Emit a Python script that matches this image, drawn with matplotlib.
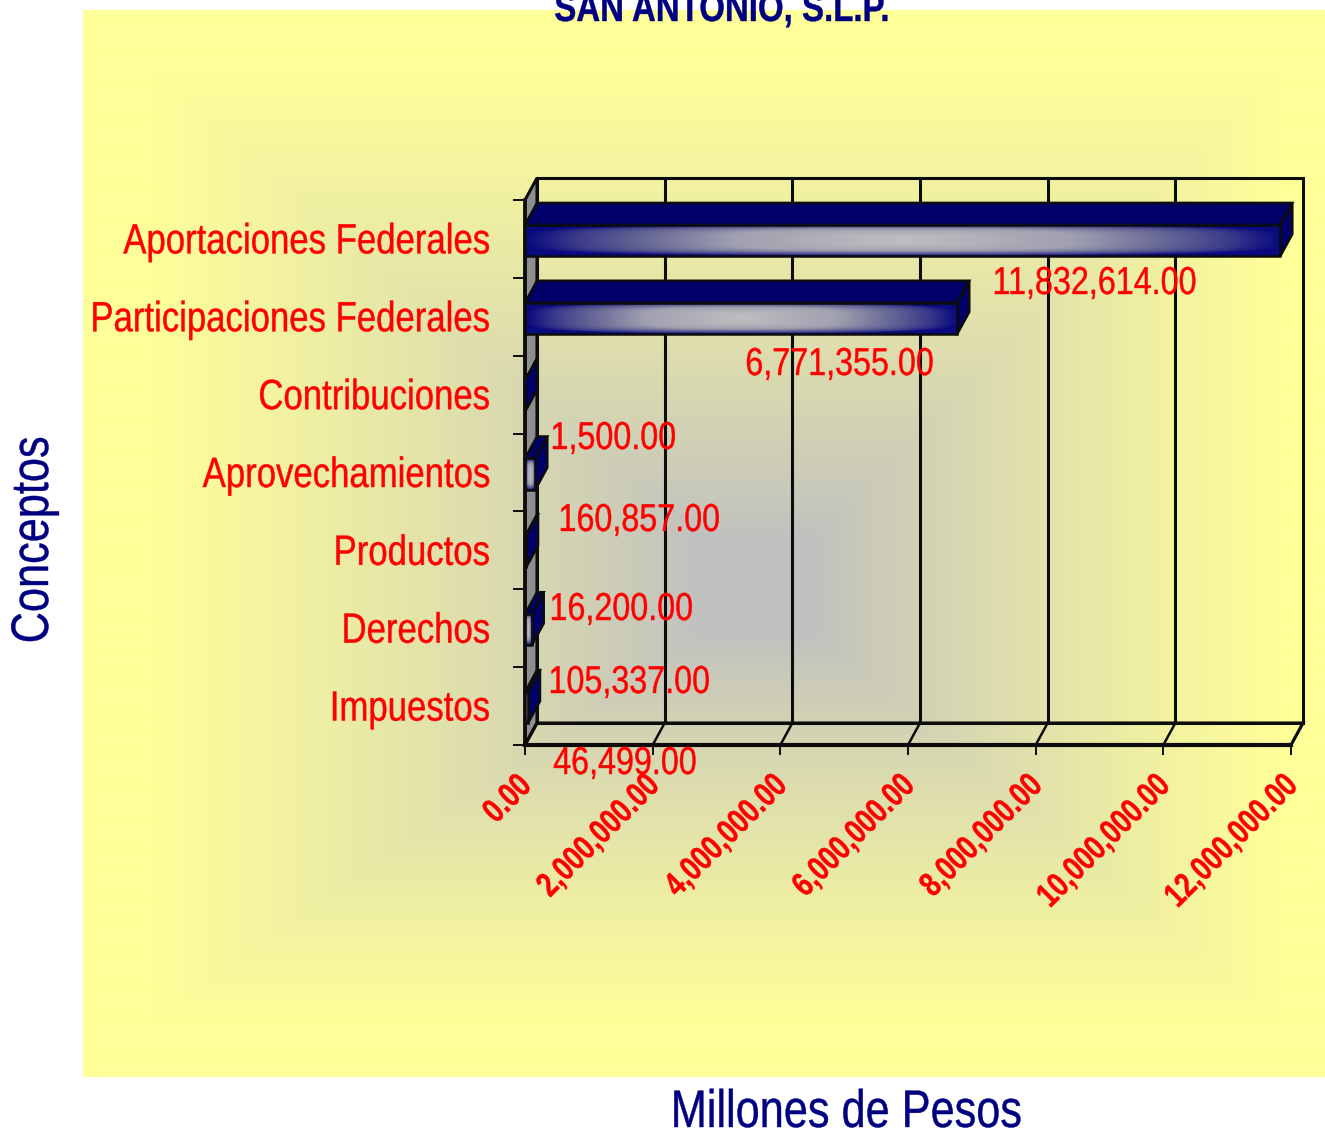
import numpy as np
import matplotlib
matplotlib.use("Agg")
import matplotlib.pyplot as plt
from matplotlib.colors import LinearSegmentedColormap
from matplotlib.patches import Polygon
from matplotlib.patheffects import AbstractPathEffect
from matplotlib.transforms import Affine2D

categories = ["Aportaciones Federales", "Participaciones Federales", "Contribuciones",
              "Aprovechamientos", "Productos", "Derechos", "Impuestos"]
values = [11832614, 6771355, 1500, 160857, 16200, 105337, 46499]
value_labels = ["11,832,614.00", "6,771,355.00", "1,500.00", "160,857.00",
                "16,200.00", "105,337.00", "46,499.00"]
label_px = [(992, 284), (745, 365), (550, 439), (558, 521), (549, 610), (548, 683), (553, 764)]
x_ticks = [0, 2000000, 4000000, 6000000, 8000000, 10000000, 12000000]
x_tick_labels = ["0.00", "2,000,000.00", "4,000,000.00", "6,000,000.00",
                 "8,000,000.00", "10,000,000.00", "12,000,000.00"]
title = "SAN ANTONIO, S.L.P."
x_title = "Millones de Pesos"
y_title = "Conceptos"

W, H = 1325, 1130
NAVY = "#000080"
RED = "#FF0000"
plt.rcParams["font.family"] = ["Liberation Sans", "DejaVu Sans"]


class Squeeze(AbstractPathEffect):
    """Draw a text narrower along its own baseline, anchored at one end or the middle."""

    def __init__(self, sx, anchor="left", shift=(0, 0), stroke=0.3):
        super().__init__()
        self.sx, self.anchor, self.shift, self.stroke = sx, anchor, shift, stroke

    def draw_path(self, renderer, gc, tpath, affine, rgbFace=None):
        ext = tpath.get_extents()
        x0 = {"left": ext.x0, "center": (ext.x0 + ext.x1) / 2, "right": ext.x1}[self.anchor]
        local = Affine2D().translate(-x0, 0).scale(self.sx, 1).translate(x0, 0)
        gc0 = renderer.new_gc()
        gc0.copy_properties(gc)
        gc0.set_linewidth(self.stroke)
        gc0.set_foreground(rgbFace)
        renderer.draw_path(gc0, tpath, local + affine + Affine2D().translate(*self.shift), rgbFace)
        gc0.restore()


def rect(l, t, r, b):
    return [l / W, 1 - b / H, (r - l) / W, (b - t) / H]


fig = plt.figure(figsize=(W / 100, H / 100), dpi=100, facecolor="white")

# gradient backdrop: rectangular path gradient, off-centre with a small flat core
bg = fig.add_axes(rect(83, 10, 1325, 1077), zorder=0)
bg.axis("off")
px, py = np.meshgrid(np.arange(83, 1325, 2.0), np.arange(10, 1077, 2.0))
CX, CY = 760, 590
rx = np.where(px < CX, (CX - px) / 610, (px - CX) / 520)
ry = np.where(py < CY, (CY - py) / 520, (py - CY) / 430)
t = np.clip((np.maximum(rx, ry) - 0.1) / 0.9, 0, 1) ** 0.85
bg_cmap = LinearSegmentedColormap.from_list("bg", ["#C0C0C0", "#FFFF99"])
bg.imshow(t, cmap=bg_cmap, vmin=0, vmax=1, aspect="auto", interpolation="bilinear")

# plot: front plane of the 3-D box
L, R, T, B = 525, 1291, 200, 745
ax = fig.add_axes(rect(L, T, R, B), zorder=2)
ax.patch.set_alpha(0)
n = len(categories)
for s in ax.spines.values():
    s.set_visible(False)

DPX, DPY = 12, 22
xmax = x_ticks[-1]
ux = xmax / (R - L)
uy = n / (B - T)
dx, dy = DPX * ux, DPY * uy
back = ax.transData + Affine2D().translate(DPX, DPY)
EDGE = "#0C0C0C"
LW = 2.2

# left wall, floor, back wall
ax.add_patch(Polygon([(0, 0), (dx, -dy), (dx, n - dy), (0, n)], fc="#8E8E8E", ec=EDGE, lw=LW,
                     clip_on=False, zorder=1))
ax.add_patch(Polygon([(0, n), (dx, n - dy), (xmax + dx, n - dy), (xmax, n)], fc="none", ec=EDGE, lw=LW,
                     clip_on=False, zorder=1))
ax.add_patch(Polygon([(0, 0), (xmax, 0), (xmax, n), (0, n)], fc="none", ec=EDGE, lw=LW,
                     clip_on=False, zorder=1, transform=back))
for v in x_ticks[1:-1]:
    ax.plot([v, v], [0, n], color=EDGE, lw=LW, transform=back, clip_on=False, zorder=1)
for v in x_ticks[1:]:
    ax.plot([v, v + dx], [n, n - dy], color=EDGE, lw=1.8, clip_on=False, zorder=1)
ax.plot([0, xmax], [n, n], color=EDGE, lw=3, clip_on=False, zorder=1)
ax.plot([0, 0], [0, n], color=EDGE, lw=2.6, clip_on=False, zorder=1)

# bars
BAR_H = 0.40
bar_cmap = LinearSegmentedColormap.from_list(
    "bar", [(0, "#BEBEC0"), (0.45, "#A0A0B0"), (0.72, "#606094"), (0.87, "#3A3A8A"), (1, "#0A0A80")])
gu, gv = np.meshgrid(np.linspace(-1, 1, 300), np.linspace(-1, 1, 40))
grad = np.clip((np.abs(gu) ** 2.5 + (np.abs(gv) ** 2) ** 2.5) ** (1 / 2.5), 0, 1)
for i, v in enumerate(values):
    y0, y1 = i + 0.5 - BAR_H / 2 + 0.02, i + 0.5 + BAR_H / 2 + 0.02
    ax.add_patch(Polygon([(0, y0), (dx, y0 - dy), (v + dx, y0 - dy), (v, y0)], fc="#000068", ec=EDGE, lw=1.8,
                         clip_on=False, zorder=3))
    ax.add_patch(Polygon([(v, y0), (v + dx, y0 - dy), (v + dx, y1 - dy), (v, y1)], fc="#000068", ec=EDGE, lw=1.8,
                         clip_on=False, zorder=3))
    ax.imshow(grad, cmap=bar_cmap, vmin=0, vmax=1, extent=(0, v, y1, y0), aspect="auto", zorder=3,
              clip_on=False, interpolation="bilinear")
    ax.add_patch(Polygon([(0, y0), (v, y0), (v, y1), (0, y1)], fc="none", ec=EDGE, lw=1.8,
                         clip_on=False, zorder=3))
ax.set_xlim(0, xmax)
ax.set_ylim(n, 0)

# axes ticks
ax.set_xticks(x_ticks)
ax.set_xticklabels(x_tick_labels, rotation=45, ha="right", va="top", rotation_mode="anchor",
                   color=RED, fontweight="bold", fontsize=24.5,
                   path_effects=[Squeeze(0.79, "right", shift=(-9, -10))])
ax.tick_params(axis="x", length=7, width=1.4, color=EDGE, pad=4)
ax.set_yticks(range(n + 1))
ax.set_yticklabels([])
ax.set_yticks([i + 0.5 for i in range(n)], minor=True)
ax.set_yticklabels(categories, minor=True, color=RED, fontsize=30.5,
                   path_effects=[Squeeze(0.82, "right", shift=(0, 1))])
ax.tick_params(axis="y", which="major", length=9, width=1.4, color=EDGE)
ax.tick_params(axis="y", which="minor", length=0, pad=25)

# value labels
for s, (lx, ly) in zip(value_labels, label_px):
    fig.text(lx / W, 1 - ly / H, s, color=RED, fontsize=28, ha="left", va="center", zorder=5,
             path_effects=[Squeeze(0.83, "left")])

fig.text(722 / W, 1 - 21 / H, title, color=NAVY, fontsize=29, fontweight="bold", ha="center", va="baseline",
         path_effects=[Squeeze(0.82, "center")])
fig.text(846 / W, 1 - 1113 / H, x_title, color=NAVY, fontsize=38, ha="center", va="center",
         path_effects=[Squeeze(0.82, "center")])
fig.text(34 / W, 1 - 540 / H, y_title, color=NAVY, fontsize=38, rotation=90, ha="center", va="center",
         path_effects=[Squeeze(0.82, "center")])

fig.savefig("out.png", dpi=100, facecolor="white")
